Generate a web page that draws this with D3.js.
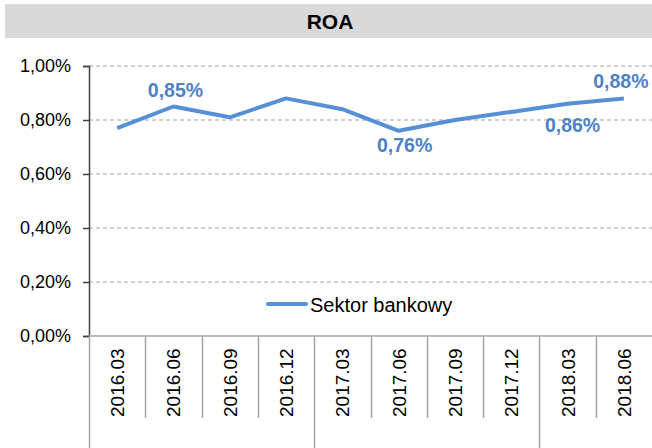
<!DOCTYPE html>
<meta charset="utf-8">
<style>
body { margin: 0; background: #fff; }
text { font-family: Arial, 'Liberation Sans', sans-serif; }
</style>
<body>
<svg width="652" height="448"></svg>
<script src="https://d3js.org/d3.v7.min.js"></script>
<script>
// quarters on the x axis
var quarters = ["2016.03", "2016.06", "2016.09", "2016.12", "2017.03",
                "2017.06", "2017.09", "2017.12", "2018.03", "2018.06"];
// ROA of the banking sector, in %
var roa = [0.77, 0.85, 0.81, 0.88, 0.84, 0.76, 0.80, 0.83, 0.86, 0.88];
var yTicks = [0, 0.2, 0.4, 0.6, 0.8, 1.0];
// which points carry a value label
var labelled = [1, 5, 8, 9];
var yearStarts = ["2016.03", "2017.03", "2018.03"];

var svg = d3.select("svg"),
    width = +svg.attr("width"),
    height = +svg.attr("height");

var plotLeft = 89, plotRight = 652, plotTop = 66, plotBottom = 336;
var blue = "#578fd7";

// title bar
svg.append("rect")
    .attr("x", 5).attr("y", 4)
    .attr("width", width - 5).attr("height", 34)
    .attr("fill", "#d9d9d9");
svg.append("text")
    .attr("x", 330).attr("y", 29)
    .attr("text-anchor", "middle")
    .style("font-size", "21px").style("font-weight", "bold")
    .text("ROA");

var x = d3.scaleBand().domain(quarters).range([plotLeft, plotRight]);
var y = d3.scaleLinear().domain([0, 1]).range([plotBottom, plotTop]);

var fmt = function(v) { return d3.format(".2f")(v).replace(".", ",") + "%"; };

// gridlines
svg.append("g").selectAll("line")
    .data(yTicks.filter(function(d) { return d > 0; }))
  .enter().append("line")
    .attr("x1", plotLeft).attr("x2", plotRight)
    .attr("y1", function(d) { return y(d); })
    .attr("y2", function(d) { return y(d); })
    .attr("stroke", "#a0a0a0")
    .attr("stroke-dasharray", "4,3");

// y axis
var yAxis = svg.append("g")
    .attr("transform", "translate(" + plotLeft + ",0)")
    .call(d3.axisLeft(y).tickValues(yTicks).tickSize(6).tickPadding(12).tickFormat(fmt));
yAxis.select(".domain").attr("stroke", "#404040").attr("stroke-width", 1.5);
yAxis.selectAll(".tick line").attr("stroke", "#404040").attr("stroke-width", 1.5);
yAxis.selectAll("text")
    .style("font-family", "Arial, 'Liberation Sans', sans-serif")
    .style("font-size", "18px").attr("fill", "#000");

// x axis with band separators
svg.append("line")
    .attr("x1", plotLeft).attr("x2", plotRight)
    .attr("y1", plotBottom).attr("y2", plotBottom)
    .attr("stroke", "#a6a6a6").attr("stroke-width", 1.5);

svg.append("g").selectAll("line")
    .data(quarters)
  .enter().append("line")
    .attr("x1", function(d) { return Math.round(x(d)) + 0.5; })
    .attr("x2", function(d) { return Math.round(x(d)) + 0.5; })
    .attr("y1", plotBottom)
    .attr("y2", function(d) { return yearStarts.indexOf(d) >= 0 ? height : 418; })
    .attr("stroke", "#a6a6a6").attr("stroke-width", 1.5);

svg.append("g").selectAll("text")
    .data(quarters)
  .enter().append("text")
    .attr("transform", function(d) {
      return "translate(" + (x(d) + x.bandwidth() / 2 + 7) + ",417) rotate(-90)";
    })
    .style("font-size", "19px")
    .text(function(d) { return d; });

// series line
var line = d3.line()
    .x(function(d, i) { return x(quarters[i]) + x.bandwidth() / 2; })
    .y(function(d) { return y(d); });

svg.append("path")
    .datum(roa)
    .attr("d", line)
    .attr("fill", "none")
    .attr("stroke", blue)
    .attr("stroke-width", 4)
    .attr("stroke-linejoin", "round");

// value labels, nudged the way the original places them
var dx = {1: 2, 5: 6, 8: 5, 9: -3};
var dy = {1: -10, 5: 21, 8: 28, 9: -10};
svg.append("g").selectAll("text")
    .data(labelled)
  .enter().append("text")
    .attr("x", function(i) { return x(quarters[i]) + x.bandwidth() / 2 + dx[i]; })
    .attr("y", function(i) { return y(roa[i]) + dy[i]; })
    .attr("text-anchor", "middle")
    .attr("fill", "#4f81c6")
    .style("font-size", "19.5px").style("font-weight", "bold")
    .text(function(i) { return fmt(roa[i]); });

// legend
svg.append("line")
    .attr("x1", 268).attr("x2", 306)
    .attr("y1", 304).attr("y2", 304)
    .attr("stroke", blue).attr("stroke-width", 4).attr("stroke-linecap", "round");
svg.append("text")
    .attr("x", 310).attr("y", 312)
    .style("font-size", "20px")
    .text("Sektor bankowy");
</script>
</body>
